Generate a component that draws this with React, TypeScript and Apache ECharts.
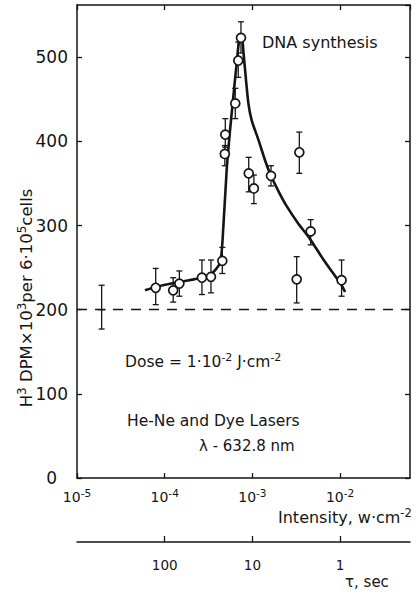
import React, { useEffect, useRef } from 'react';
import * as echarts from 'echarts';

// Measured points (intensity W/cm^2, H3 DPM x10^3 per 6·10^5 cells)
const intensity = [7.9e-5, 1.25e-4, 1.47e-4, 2.66e-4, 3.37e-4, 4.54e-4, 4.91e-4, 4.85e-4, 6.38e-4, 6.9e-4, 7.41e-4, 9.08e-4, 1.04e-3, 1.63e-3, 3.43e-3, 3.2e-3, 4.62e-3, 1.04e-2];
const dpm = [226, 223, 231, 238, 239, 258, 408, 385, 445, 496, 523, 362, 344, 359, 387, 236, 293, 235];
const errLow = [206, 209, 216, 218, 220, 243, 393, 371, 427, 476, 505, 340, 326, 347, 362, 208, 277, 216];
const errHigh = [249, 238, 246, 259, 259, 274, 427, 395, 463, 518, 542, 381, 360, 371, 411, 263, 307, 259];

// Control point (cross, no circle)
const controlIntensity = [1.91e-5];
const controlValue = [200];
const controlLow = [177];
const controlHigh = [229];

// Fitted curve
const fitIntensity = [5.96e-5, 7.9e-5, 1.49e-4, 2.66e-4, 3.37e-4, 4.28e-4, 4.66e-4, 5.09e-4, 5.56e-4, 6.06e-4, 6.62e-4, 7.09e-4, 7.6e-4, 7.92e-4, 8.98e-4, 9.82e-4, 1.17e-3, 1.4e-3, 1.63e-3, 2.0e-3, 2.46e-3, 3.3e-3, 4.54e-3, 6.5e-3, 1.04e-2, 1.14e-2];
const fitValue = [223, 227, 233, 238, 242, 256, 298, 366, 413, 453, 493, 520, 522, 505, 446, 425, 402, 377, 359, 340, 323, 303, 284, 259, 229, 221];

const baseline = 200;

const yTicks = [0, 100, 200, 300, 400, 500];
const tauLabels = [100, 10, 1];

const FONT = 'DejaVu Sans';
const INK = '#151515';

export default function App() {
  const ref = useRef<HTMLDivElement>(null);

  useEffect(() => {
    if (!ref.current) return;
    const chart = echarts.init(ref.current, undefined, { renderer: 'svg' });

    const xMin = 1e-5;
    const xMax = 0.0627;
    const dose = 1e-2;

    const expLabel = (v: number) => {
      const e = Math.log10(v);
      const r = Math.round(e);
      if (Math.abs(e - r) > 0.01) return '';
      return `{b|10}{s|${r < 0 ? '-' : ''}${Math.abs(r)}}`;
    };

    const errData = intensity.map((x, i) => [x, errLow[i], errHigh[i], 0]);
    const ctrlData = controlIntensity.map((x, i) => [x, controlLow[i], controlHigh[i], 1, controlValue[i]]);

    const renderErr = (params: any, api: any) => {
      const x = api.value(0);
      const lo = api.coord([x, api.value(1)]);
      const hi = api.coord([x, api.value(2)]);
      const w = 3;
      const st = { stroke: INK, lineWidth: 1.3 };
      const children: any[] = [
        { type: 'line', shape: { x1: lo[0], y1: lo[1], x2: hi[0], y2: hi[1] }, style: st },
        { type: 'line', shape: { x1: lo[0] - w, y1: lo[1], x2: lo[0] + w, y2: lo[1] }, style: st },
        { type: 'line', shape: { x1: hi[0] - w, y1: hi[1], x2: hi[0] + w, y2: hi[1] }, style: st },
      ];
      if (api.value(3) === 1) {
        const c = api.coord([x, api.value(4)]);
        children.push({ type: 'line', shape: { x1: c[0] - 4, y1: c[1], x2: c[0] + 4, y2: c[1] }, style: st });
      }
      return { type: 'group', children };
    };

    const axisLine = { show: true, onZero: false, lineStyle: { color: INK, width: 1.5 } };
    const tick = { show: true, inside: true, length: 5, lineStyle: { color: INK, width: 1.3 } };

    chart.setOption({
      animation: false,
      backgroundColor: '#ffffff',
      grid: { left: 77, right: 8, top: 5, bottom: 117, containLabel: false },
      xAxis: [
        {
          type: 'log', logBase: 10, min: xMin, max: xMax, position: 'bottom',
          axisLine, axisTick: tick, splitLine: { show: false }, minorTick: { show: false },
          axisLabel: {
            show: true, showMaxLabel: false, margin: 9, color: INK, fontFamily: FONT,
            formatter: expLabel,
            rich: {
              b: { fontSize: 14, fontFamily: FONT, color: INK },
              s: { fontSize: 10.5, fontFamily: FONT, color: INK, padding: [0, 0, 9, 0] },
            },
          },
        },
        {
          type: 'log', logBase: 10, min: dose / xMax, max: dose / xMin, inverse: true,
          position: 'bottom', offset: 64,
          axisLine, axisTick: { ...tick, length: 6 }, splitLine: { show: false }, minorTick: { show: false },
          axisLabel: {
            show: true, margin: 16, fontSize: 13.5, fontFamily: FONT, color: INK,
            showMinLabel: false, showMaxLabel: false,
            formatter: (v: number) => {
              const match = tauLabels.find((t) => Math.abs(Math.log10(v) - Math.log10(t)) < 0.01);
              return match !== undefined ? String(match) : '';
            },
          },
        },
        {
          type: 'log', logBase: 10, min: xMin, max: xMax, position: 'top',
          axisLine, axisTick: tick, axisLabel: { show: false }, splitLine: { show: false }, minorTick: { show: false },
        },
      ],
      yAxis: [
        {
          type: 'value', min: 0, max: 562, interval: 100, position: 'left',
          axisLine, axisTick: tick, splitLine: { show: false },
          axisLabel: {
            show: true, showMaxLabel: false, margin: 9, fontSize: 17, fontFamily: FONT, color: INK,
            formatter: (v: number) => (yTicks.includes(v) ? (v === 0 ? '{z|0}' : String(v)) : ''),
            rich: { z: { fontSize: 17, fontFamily: FONT, color: INK, padding: [0, 11, 0, 0] } },
          },
        },
        {
          type: 'value', min: 0, max: 562, interval: 100, position: 'right',
          axisLine, axisTick: tick, splitLine: { show: false }, axisLabel: { show: false },
        },
      ],
      series: [
        {
          type: 'line',
          xAxisIndex: 0, yAxisIndex: 0,
          data: fitIntensity.map((x, i) => [x, fitValue[i]]),
          showSymbol: false, smooth: 0.25,
          lineStyle: { color: INK, width: 2.6 },
          z: 3,
          markLine: {
            silent: true, symbol: ['none', 'none'], label: { show: false },
            lineStyle: { color: INK, width: 1.3, type: [10, 8] },
            data: [{ yAxis: baseline }],
          },
        },
        {
          type: 'custom', xAxisIndex: 0, yAxisIndex: 0,
          data: errData, renderItem: renderErr, encode: { x: 0, y: [1, 2] }, z: 4,
        },
        {
          type: 'custom', xAxisIndex: 0, yAxisIndex: 0,
          data: ctrlData, renderItem: renderErr, encode: { x: 0, y: [1, 2] }, z: 4,
        },
        {
          type: 'scatter', xAxisIndex: 0, yAxisIndex: 0,
          data: intensity.map((x, i) => [x, dpm[i]]),
          symbol: 'circle', symbolSize: 9,
          itemStyle: { color: '#ffffff', borderColor: INK, borderWidth: 1.7, opacity: 1 },
          z: 5,
        },
      ],
      graphic: [
        {
          type: 'text', x: 262, y: 42,
          style: { text: 'DNA synthesis', fontSize: 16, fontFamily: FONT, fill: INK, align: 'left', verticalAlign: 'middle' },
        },
        {
          type: 'text', x: 125, y: 362,
          style: {
            text: '{a|Dose = 1·10}{s|-2}{a| J·cm}{s|-2}', align: 'left', verticalAlign: 'middle',
            rich: {
              a: { fontSize: 15.5, fontFamily: FONT, fill: INK },
              s: { fontSize: 11, fontFamily: FONT, fill: INK, padding: [0, 0, 9, 0] },
            },
          },
        },
        {
          type: 'text', x: 127, y: 421,
          style: { text: 'He-Ne and Dye Lasers', fontSize: 15.5, fontFamily: FONT, fill: INK, align: 'left', verticalAlign: 'middle' },
        },
        {
          type: 'text', x: 199, y: 446,
          style: { text: 'λ - 632.8 nm', fontSize: 15, fontFamily: FONT, fill: INK, align: 'left', verticalAlign: 'middle' },
        },
        {
          type: 'text', x: 278, y: 517,
          style: {
            text: '{a|Intensity, w·cm}{s|-2}', align: 'left', verticalAlign: 'middle',
            rich: {
              a: { fontSize: 16, fontFamily: FONT, fill: INK },
              s: { fontSize: 11.5, fontFamily: FONT, fill: INK, padding: [0, 0, 9, 0] },
            },
          },
        },
        {
          type: 'text', x: 345, y: 582,
          style: { text: 'τ, sec', fontSize: 15, fontFamily: FONT, fill: INK, align: 'left', verticalAlign: 'middle' },
        },
        {
          type: 'text', x: 26, y: 298, rotation: Math.PI / 2,
          style: {
            text: '{a|H}{s|3}{a| DPM×10}{s|3}{a|per 6·10}{s|5}{a|cells}', align: 'center', verticalAlign: 'middle',
            rich: {
              a: { fontSize: 16.5, fontFamily: FONT, fill: INK },
              s: { fontSize: 12, fontFamily: FONT, fill: INK, padding: [0, 0, 9, 0] },
            },
          },
        },
      ],
    });

    return () => chart.dispose();
  }, []);

  return (
    <div
      ref={ref}
      style={{ position: 'fixed', left: 0, top: 0, width: 418, height: 595, background: '#fff' }}
    />
  );
}
